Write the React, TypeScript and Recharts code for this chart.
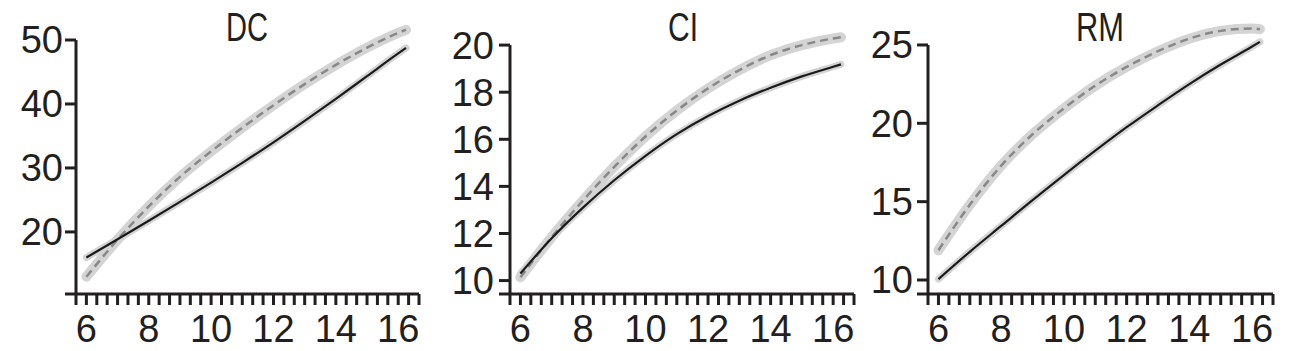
import { LineChart, Line, XAxis, YAxis, ReferenceLine } from "recharts";

// age in years (last point is where the fitted curves stop)
const ages = [6, 7, 8, 9, 10, 11, 12, 13, 14, 15, 16, 16.25];

const dcSolid = [16.0, 18.85, 21.75, 24.7, 27.7, 30.8, 34.0, 37.35, 40.8, 44.35, 47.9, 48.75];
const dcDashed = [13.0, 18.8, 24.0, 28.6, 32.6, 36.3, 39.8, 43.1, 46.1, 48.8, 51.1, 51.6];

const ciSolid = [10.3, 11.8, 13.1, 14.26, 15.3, 16.22, 16.99, 17.64, 18.19, 18.67, 19.08, 19.18];
const ciDashed = [10.14, 11.85, 13.4, 14.83, 16.12, 17.22, 18.16, 18.94, 19.57, 20.0, 20.28, 20.33];

const rmSolid = [10.06, 11.8, 13.45, 15.1, 16.7, 18.25, 19.75, 21.15, 22.5, 23.75, 24.9, 25.2];
const rmDashed = [11.9, 14.8, 17.3, 19.3, 20.95, 22.4, 23.6, 24.6, 25.4, 25.9, 26.05, 26.0];

const xLabels = [6, 8, 10, 12, 14, 16];
const dcTicks = [20, 30, 40, 50];
const ciTicks = [10, 12, 14, 16, 18, 20];
const rmTicks = [10, 15, 20, 25];

const X_MIN = 17 / 3;
const X_MAX = 50 / 3;
const xTicks = Array.from({ length: 34 }, (_, i) => X_MIN + i / 3);

const INK = "#231f20";
const HALO = "#d4d4d4";
const FONT = "'Liberation Sans', Arial, sans-serif";

const formatX = (v: number) => {
  const r = Math.round(v);
  return Math.abs(v - r) < 1e-6 && xLabels.includes(r) ? String(r) : "";
};

type PanelProps = {
  solid: number[];
  dashed: number[];
  ticks: number[];
  yMin: number;
  yMax: number;
  yTickMargin: number;
  left: number;
  width: number;
  margin: { top: number; right: number; left: number; bottom: number };
};

const Panel = ({ solid, dashed, ticks, yMin, yMax, yTickMargin, left, width, margin }: PanelProps) => {
  const data = ages.map((age, i) => ({ age, solid: solid[i], dashed: dashed[i] }));
  const yTop = ticks[ticks.length - 1];
  return (
    <div style={{ position: "absolute", left, top: 0 }}>
      <LineChart width={width} height={351} data={data} margin={margin}>
        <XAxis
          dataKey="age"
          type="number"
          domain={[X_MIN, X_MAX]}
          ticks={xTicks}
          interval={0}
          tickFormatter={formatX}
          tickSize={11}
          tickMargin={10}
          axisLine={{ stroke: INK, strokeWidth: 3 }}
          tickLine={{ stroke: INK, strokeWidth: 3 }}
          tick={{ fontSize: 38, fill: INK, fontFamily: FONT }}
        />
        <YAxis
          type="number"
          domain={[yMin, yMax]}
          ticks={[yMin, ...ticks]}
          interval={0}
          tickFormatter={(v: number) => (v === yMin ? "" : String(v))}
          tickSize={11}
          tickMargin={yTickMargin}
          width={60}
          axisLine={false}
          tickLine={{ stroke: INK, strokeWidth: 3 }}
          tick={{ fontSize: 38, fill: INK, fontFamily: FONT }}
        />
        <ReferenceLine
          segment={[
            { x: X_MIN, y: yMin },
            { x: X_MIN, y: yTop },
          ]}
          stroke={INK}
          strokeWidth={3}
          ifOverflow="visible"
        />
        <Line type="monotone" dataKey="dashed" stroke={HALO} strokeWidth={10} strokeLinecap="round" dot={false} isAnimationActive={false} />
        <Line type="monotone" dataKey="solid" stroke={HALO} strokeWidth={7} strokeLinecap="round" dot={false} isAnimationActive={false} />
        <Line type="monotone" dataKey="dashed" stroke="#888888" strokeWidth={2.5} strokeDasharray="8 5" dot={false} isAnimationActive={false} />
        <Line type="monotone" dataKey="solid" stroke="#1a1a1a" strokeWidth={2.2} dot={false} isAnimationActive={false} />
      </LineChart>
    </div>
  );
};

const App = () => {
  return (
    <div style={{ position: "fixed", left: 0, top: 0, width: 1289, height: 351, background: "#fff" }}>
      <Panel
        solid={dcSolid}
        dashed={dcDashed}
        ticks={dcTicks}
        yMin={10.3}
        yMax={52.5}
        yTickMargin={2}
        left={0}
        width={430}
        margin={{ top: 24, right: 11, left: 16, bottom: 27 }}
      />
      <Panel
        solid={ciSolid}
        dashed={ciDashed}
        ticks={ciTicks}
        yMin={9.43}
        yMax={20.7}
        yTickMargin={5}
        left={430}
        width={430}
        margin={{ top: 28.6, right: 6, left: 20, bottom: 27 }}
      />
      <Panel
        solid={rmSolid}
        dashed={rmDashed}
        ticks={rmTicks}
        yMin={9.106}
        yMax={26.6}
        yTickMargin={4}
        left={860}
        width={429}
        margin={{ top: 19.9, right: 16, left: 8, bottom: 27 }}
      />
      <svg width={1289} height={351} style={{ position: "absolute", left: 0, top: 0, pointerEvents: "none" }}>
        <g fontFamily={FONT} fontSize={40} fill={INK} textAnchor="middle">
          <text x={247} y={40.7} textLength={42} lengthAdjust="spacingAndGlyphs">DC</text>
          <text x={683} y={40.7} textLength={30} lengthAdjust="spacingAndGlyphs">CI</text>
          <text x={1100} y={40.7} textLength={48} lengthAdjust="spacingAndGlyphs">RM</text>
        </g>
      </svg>
    </div>
  );
};

export default App;
